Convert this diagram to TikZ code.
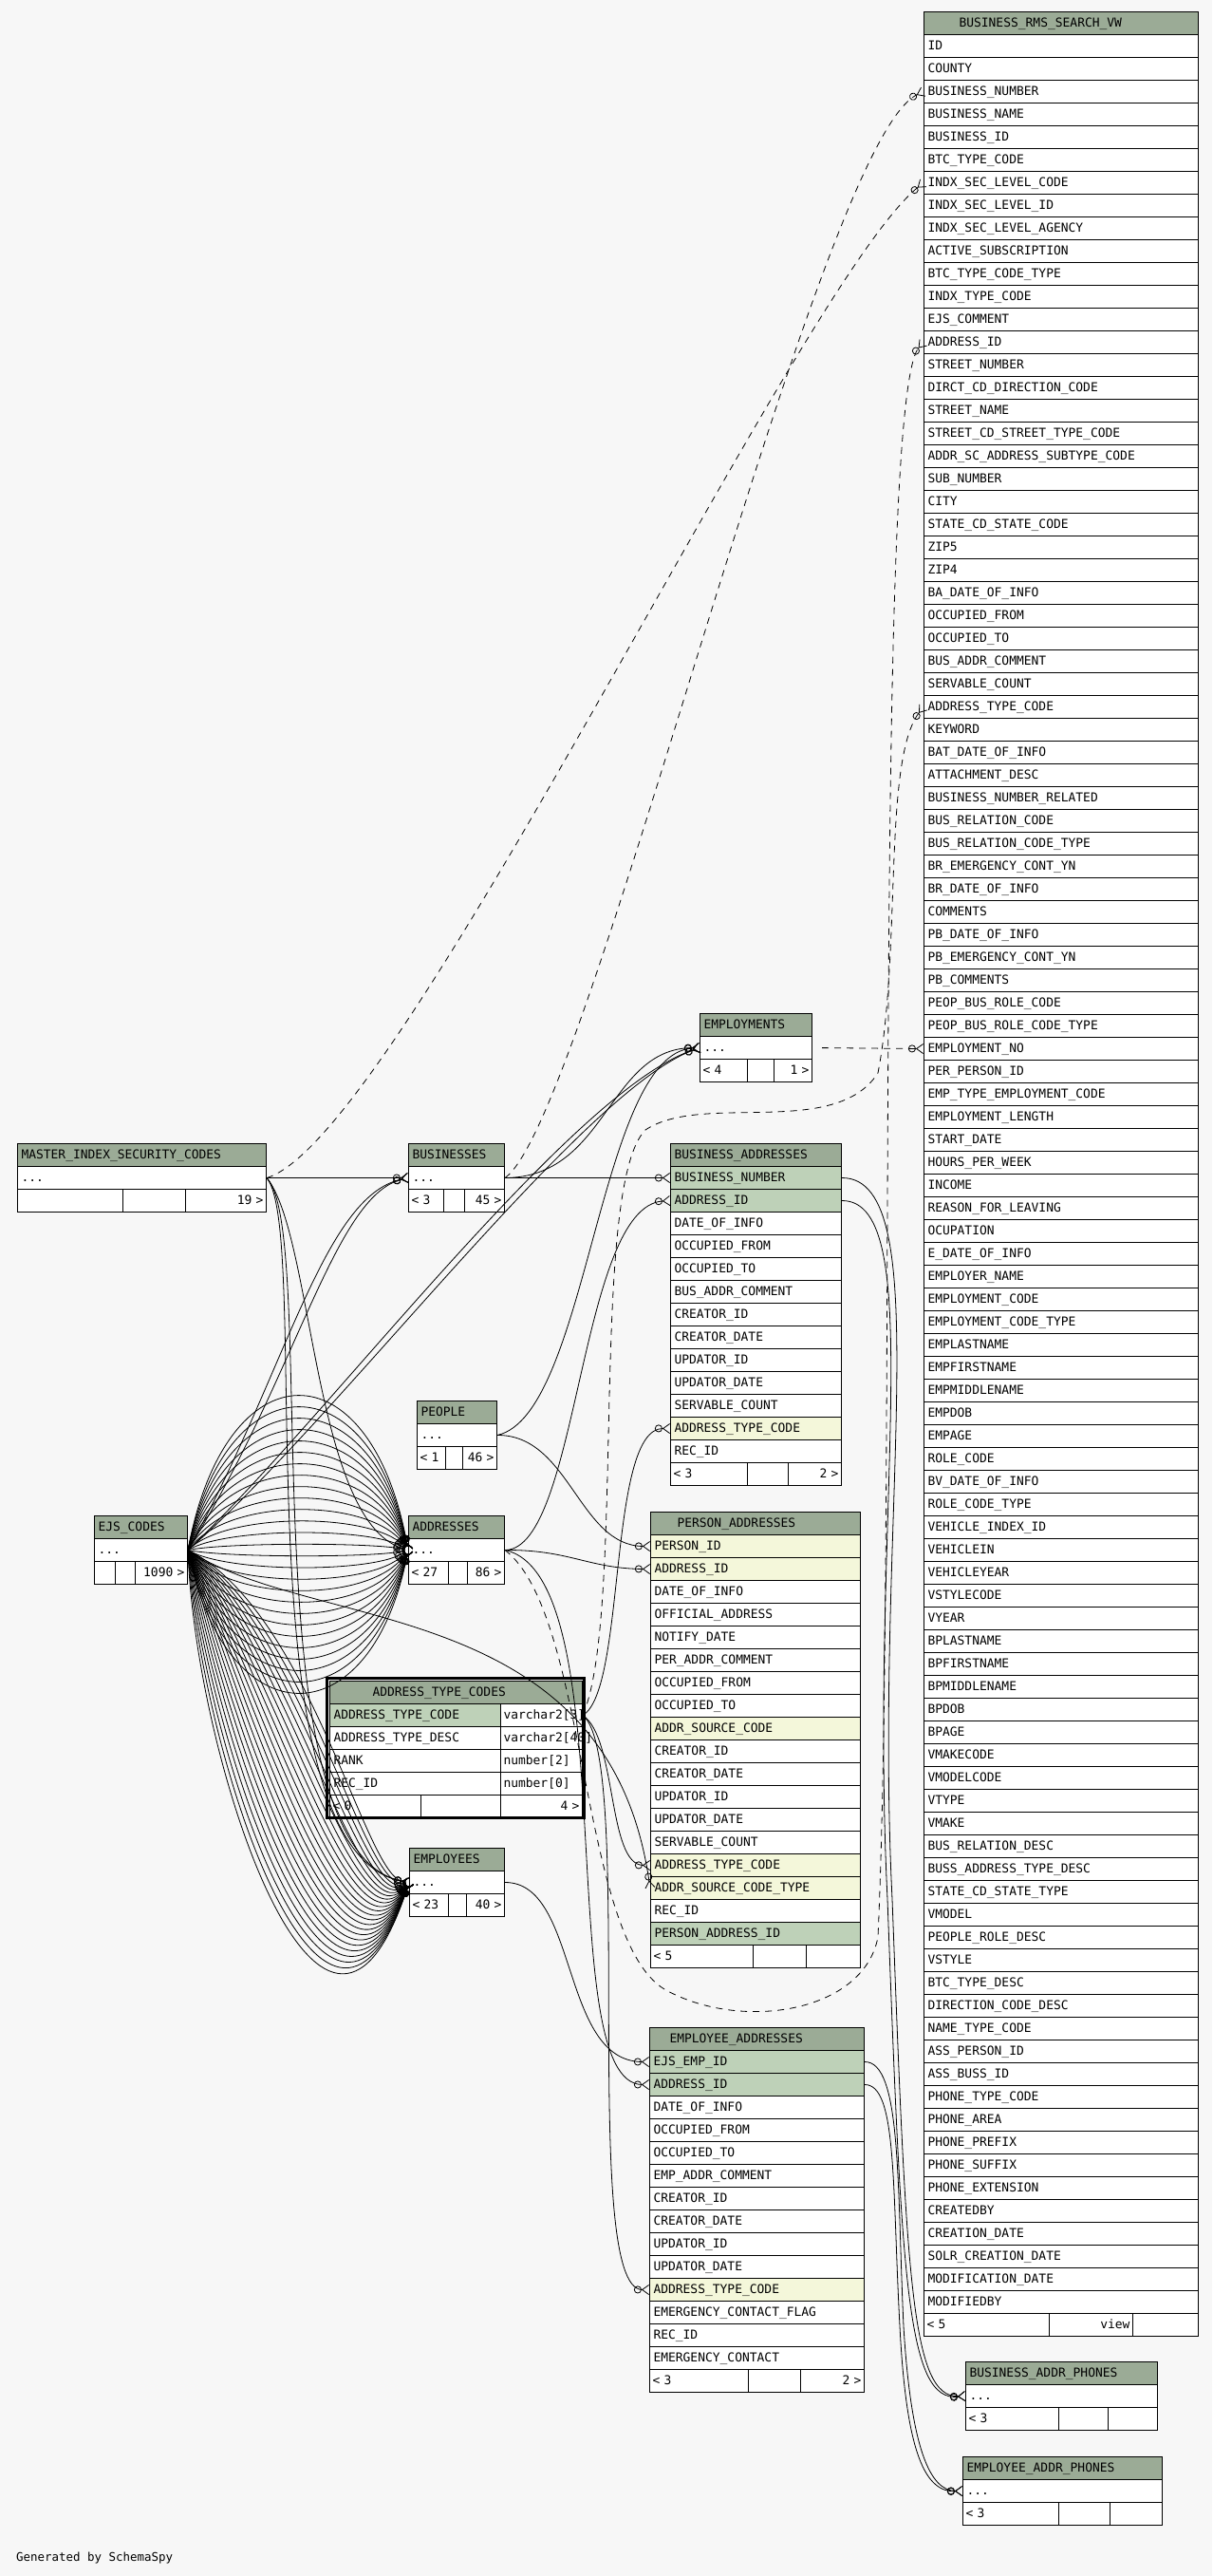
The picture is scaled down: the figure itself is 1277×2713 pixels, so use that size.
\documentclass[tikz,border=0pt]{standalone}
\usepackage{fontspec}
\newfontfamily\dbfont{DejaVu Sans Mono}
\usetikzlibrary{arrows.meta}
\definecolor{bgc}{HTML}{F7F7F7}
\definecolor{hdc}{HTML}{9BAB96}
\definecolor{pkc}{HTML}{BED1B8}
\definecolor{fkc}{HTML}{F4F7DA}
\tikzset{
  col/.style={draw, fill=white, anchor=north west, minimum height=24bp, inner xsep=4bp, inner ysep=0pt,
    text width=#1, align=left, text height=9.5bp, text depth=2.5bp, line width=1bp,
    font=\dbfont\fontsize{13}{15}\selectfont},
  hdr/.style={col=#1, fill=hdc},
  foot/.style={col=#1, inner xsep=3bp},
  rel/.style={line width=0.8bp, -{Circle[open,length=8bp,width=8bp]Straight Barb[reversed,length=7bp,width=10bp]}},
  imp/.style={rel, dash pattern=on 7bp off 6bp},
}
\begin{document}
\begin{tikzpicture}[x=1bp,y=-1bp]
\fill[bgc] (0,0) rectangle (1277,2713);
\useasboundingbox (0,0) rectangle (1277,2713);
%		view
\node[hdr=281bp] (vw) at (973,12) {\hspace*{33bp}BUSINESS\_RMS\_SEARCH\_VW};
\foreach \c [count=\i] in {ID, COUNTY, BUSINESS\_NUMBER, BUSINESS\_NAME, BUSINESS\_ID, BTC\_TYPE\_CODE,
  INDX\_SEC\_LEVEL\_CODE, INDX\_SEC\_LEVEL\_ID, INDX\_SEC\_LEVEL\_AGENCY, ACTIVE\_SUBSCRIPTION,
  BTC\_TYPE\_CODE\_TYPE, INDX\_TYPE\_CODE, EJS\_COMMENT, ADDRESS\_ID, STREET\_NUMBER,
  DIRCT\_CD\_DIRECTION\_CODE, STREET\_NAME, STREET\_CD\_STREET\_TYPE\_CODE, ADDR\_SC\_ADDRESS\_SUBTYPE\_CODE,
  SUB\_NUMBER, CITY, STATE\_CD\_STATE\_CODE, ZIP5, ZIP4, BA\_DATE\_OF\_INFO, OCCUPIED\_FROM, OCCUPIED\_TO,
  BUS\_ADDR\_COMMENT, SERVABLE\_COUNT, ADDRESS\_TYPE\_CODE, KEYWORD, BAT\_DATE\_OF\_INFO, ATTACHMENT\_DESC,
  BUSINESS\_NUMBER\_RELATED, BUS\_RELATION\_CODE, BUS\_RELATION\_CODE\_TYPE, BR\_EMERGENCY\_CONT\_YN,
  BR\_DATE\_OF\_INFO, COMMENTS, PB\_DATE\_OF\_INFO, PB\_EMERGENCY\_CONT\_YN, PB\_COMMENTS,
  PEOP\_BUS\_ROLE\_CODE, PEOP\_BUS\_ROLE\_CODE\_TYPE, EMPLOYMENT\_NO, PER\_PERSON\_ID,
  EMP\_TYPE\_EMPLOYMENT\_CODE, EMPLOYMENT\_LENGTH, START\_DATE, HOURS\_PER\_WEEK, INCOME,
  REASON\_FOR\_LEAVING, OCUPATION, E\_DATE\_OF\_INFO, EMPLOYER\_NAME, EMPLOYMENT\_CODE,
  EMPLOYMENT\_CODE\_TYPE, EMPLASTNAME, EMPFIRSTNAME, EMPMIDDLENAME, EMPDOB, EMPAGE, ROLE\_CODE,
  BV\_DATE\_OF\_INFO, ROLE\_CODE\_TYPE, VEHICLE\_INDEX\_ID, VEHICLEIN, VEHICLEYEAR, VSTYLECODE, VYEAR,
  BPLASTNAME, BPFIRSTNAME, BPMIDDLENAME, BPDOB, BPAGE, VMAKECODE, VMODELCODE, VTYPE, VMAKE,
  BUS\_RELATION\_DESC, BUSS\_ADDRESS\_TYPE\_DESC, STATE\_CD\_STATE\_TYPE, VMODEL, PEOPLE\_ROLE\_DESC,
  VSTYLE, BTC\_TYPE\_DESC, DIRECTION\_CODE\_DESC, NAME\_TYPE\_CODE, ASS\_PERSON\_ID, ASS\_BUSS\_ID,
  PHONE\_TYPE\_CODE, PHONE\_AREA, PHONE\_PREFIX, PHONE\_SUFFIX, PHONE\_EXTENSION, CREATEDBY,
  CREATION\_DATE, SOLR\_CREATION\_DATE, MODIFICATION\_DATE, MODIFIEDBY}
  \node[col=281bp] (vw-\i) at (973,{12+24*\i}) {\c};
\node[foot=126bp] (vw-f1) at (973,2436) {< 5};
\node[foot=82bp, align=right] (vw-f2) at (1105,2436) {view};
\node[foot=63bp] (vw-f3) at (1193,2436) {};
%		master index
\node[hdr=254bp] (msc) at (18,1204) {MASTER\_INDEX\_SECURITY\_CODES};
\node[col=254bp] (msc-1) at (18,1228) {...};
\node[foot=105bp] (msc-f1) at (18,1252) {};
\node[foot=60bp] (msc-f2) at (129,1252) {};
\node[foot=79bp, align=right] (msc-f3) at (195,1252) {19 >};
%		businesses
\node[hdr=93bp] (bus) at (430,1204) {BUSINESSES};
\node[col=93bp] (bus-1) at (430,1228) {...};
\node[foot=31bp] (bus-f1) at (430,1252) {< 3};
\node[foot=16bp] (bus-f2) at (467,1252) {};
\node[foot=36bp, align=right] (bus-f3) at (489,1252) {45 >};
%		employments
\node[hdr=110bp] (empl) at (737,1067) {EMPLOYMENTS};
\node[col=110bp] (empl-1) at (737,1091) {...};
\node[foot=44bp] (empl-f1) at (737,1115) {< 4};
\node[foot=22bp] (empl-f2) at (787,1115) {};
\node[foot=34bp, align=right] (empl-f3) at (815,1115) {1 >};
%		business addresses
\node[hdr=172bp] (ba) at (706,1204) {BUSINESS\_ADDRESSES};
\foreach \c/\f [count=\i] in {BUSINESS\_NUMBER/pkc, ADDRESS\_ID/pkc, DATE\_OF\_INFO/white, OCCUPIED\_FROM/white,
  OCCUPIED\_TO/white, BUS\_ADDR\_COMMENT/white, CREATOR\_ID/white, CREATOR\_DATE/white, UPDATOR\_ID/white,
  UPDATOR\_DATE/white, SERVABLE\_COUNT/white, ADDRESS\_TYPE\_CODE/fkc, REC\_ID/white}
  \node[col=172bp, fill=\f] (ba-\i) at (706,{1204+24*\i}) {\c};
\node[foot=75bp] (ba-f1) at (706,1540) {< 3};
\node[foot=37bp] (ba-f2) at (787,1540) {};
\node[foot=50bp, align=right] (ba-f3) at (830,1540) {2 >};
%		people
\node[hdr=76bp] (ppl) at (439,1475) {PEOPLE};
\node[col=76bp] (ppl-1) at (439,1499) {...};
\node[foot=24bp] (ppl-f1) at (439,1523) {< 1};
\node[foot=12bp] (ppl-f2) at (469,1523) {};
\node[foot=30bp, align=right] (ppl-f3) at (487,1523) {46 >};
%		ejs codes
\node[hdr=90bp] (ejs) at (99,1596) {EJS\_CODES};
\node[col=90bp] (ejs-1) at (99,1620) {...};
\node[foot=16bp] (ejs-f1) at (99,1644) {};
\node[foot=15bp] (ejs-f2) at (121,1644) {};
\node[foot=49bp, align=right] (ejs-f3) at (142,1644) {1090 >};
%		addresses
\node[hdr=93bp] (adr) at (430,1596) {ADDRESSES};
\node[col=93bp] (adr-1) at (430,1620) {...};
\node[foot=36bp] (adr-f1) at (430,1644) {< 27};
\node[foot=14bp] (adr-f2) at (472,1644) {};
\node[foot=33bp, align=right] (adr-f3) at (492,1644) {86 >};
%		person addresses
\node[hdr=213bp] (pa) at (685,1592) {\hspace*{24bp}PERSON\_ADDRESSES};
\foreach \c/\f [count=\i] in {PERSON\_ID/fkc, ADDRESS\_ID/fkc, DATE\_OF\_INFO/white, OFFICIAL\_ADDRESS/white,
  NOTIFY\_DATE/white, PER\_ADDR\_COMMENT/white, OCCUPIED\_FROM/white, OCCUPIED\_TO/white, ADDR\_SOURCE\_CODE/fkc,
  CREATOR\_ID/white, CREATOR\_DATE/white, UPDATOR\_ID/white, UPDATOR\_DATE/white, SERVABLE\_COUNT/white,
  ADDRESS\_TYPE\_CODE/fkc, ADDR\_SOURCE\_CODE\_TYPE/fkc, REC\_ID/white, PERSON\_ADDRESS\_ID/pkc}
  \node[col=213bp, fill=\f] (pa-\i) at (685,{1592+24*\i}) {\c};
\node[foot=102bp] (pa-f1) at (685,2048) {< 5};
\node[foot=50bp] (pa-f2) at (793,2048) {};
\node[foot=51bp] (pa-f3) at (849,2048) {};
%		employees
\node[hdr=92bp] (emps) at (431,1946) {EMPLOYEES};
\node[col=92bp] (emps-1) at (431,1970) {...};
\node[foot=35bp] (emps-f1) at (431,1994) {< 23};
\node[foot=13bp] (emps-f2) at (472,1994) {};
\node[foot=34bp, align=right] (emps-f3) at (491,1994) {40 >};
%		address type codes
\node[hdr=258bp] (atc) at (347,1770) {\hspace*{41bp}ADDRESS\_TYPE\_CODES};
\foreach \c/\t/\f [count=\i] in {ADDRESS\_TYPE\_CODE/varchar2[3]/pkc, ADDRESS\_TYPE\_DESC/varchar2[40]/white,
  RANK/number[2]/white, REC\_ID/number[0]/white}{
  \node[col=172bp, fill=\f] (atc-\i) at (347,{1770+24*\i}) {\c};
  \node[foot=80bp] (atct-\i) at (527,{1770+24*\i}) {\t};
}
\node[foot=90bp] (atc-f1) at (347,1890) {< 0};
\node[foot=78bp] (atc-f2) at (443,1890) {};
\node[foot=80bp, align=right] (atc-f3) at (527,1890) {4 >};
\draw[line width=3bp] (344.5,1767.5) rectangle (615.5,1914.5);
%		employee addresses
\node[hdr=218bp] (ea) at (684,2135) {\hspace*{17bp}EMPLOYEE\_ADDRESSES};
\foreach \c/\f [count=\i] in {EJS\_EMP\_ID/pkc, ADDRESS\_ID/pkc, DATE\_OF\_INFO/white, OCCUPIED\_FROM/white,
  OCCUPIED\_TO/white, EMP\_ADDR\_COMMENT/white, CREATOR\_ID/white, CREATOR\_DATE/white, UPDATOR\_ID/white,
  UPDATOR\_DATE/white, ADDRESS\_TYPE\_CODE/fkc, EMERGENCY\_CONTACT\_FLAG/white, REC\_ID/white,
  EMERGENCY\_CONTACT/white}
  \node[col=218bp, fill=\f] (ea-\i) at (684,{2135+24*\i}) {\c};
\node[foot=98bp] (ea-f1) at (684,2495) {< 3};
\node[foot=49bp] (ea-f2) at (788,2495) {};
\node[foot=61bp, align=right] (ea-f3) at (843,2495) {2 >};
%		phones
\node[hdr=194bp] (bap) at (1017,2487) {BUSINESS\_ADDR\_PHONES};
\node[col=194bp] (bap-1) at (1017,2511) {...};
\node[foot=92bp] (bap-f1) at (1017,2535) {< 3};
\node[foot=46bp] (bap-f2) at (1115,2535) {};
\node[foot=46bp] (bap-f3) at (1167,2535) {};
\node[hdr=202bp] (eap) at (1014,2587) {EMPLOYEE\_ADDR\_PHONES};
\node[col=202bp] (eap-1) at (1014,2611) {...};
\node[foot=95bp] (eap-f1) at (1014,2635) {< 3};
\node[foot=48bp] (eap-f2) at (1115,2635) {};
\node[foot=49bp] (eap-f3) at (1169,2635) {};
\node[anchor=west, inner sep=0pt, font=\dbfont\fontsize{12.5}{14}\selectfont] (gen) at (17,2694) {Generated by SchemaSpy};
%		fans
\foreach \k in {-200,-184,...,216}
  \draw[rel] (ejs-1.east) .. controls ([shift={(40,-\k)}]ejs-1.east) and ([shift={(-40,-\k)}]adr-1.west) .. (adr-1.west);
\foreach \s in {0,...,22}
  \draw[rel] (ejs-1.east) .. controls ({205+5.5*\s},{1850-7*\s}) and ({340+2*\s},{2260-13*\s}) .. (emps-1.west);
\foreach \d in {0,12}{
  \draw[rel] (ejs-1.east) .. controls ({300+\d},1450) and ({340+\d},1260) .. (bus-1.west);
  \draw[rel] (ejs-1.east) .. controls ({340+\d},1500) and ({600+\d},1150) .. (empl-1.west);
}
\foreach \d in {0,8}
  \draw[rel] (msc-1.east) .. controls ({330+\d},1300) and ({250+\d},1950) .. (emps-1.west);
\draw[rel] (msc-1.east) .. controls (330,1300) and (330,1600) .. (adr-1.west);
\draw[rel] (ejs-1.east) .. controls (330,1720) and (640,1680) .. (pa-16.west);
%		links
\draw[rel] (msc-1.east) -- (bus-1.west);
\draw[rel] (bus-1.east) -- (ba-1.west);
\draw[rel] (bus-1.east) .. controls (640,1240) and (640,1104) .. (empl-1.west);
\draw[rel] (ppl-1.east) .. controls (620,1490) and (630,1110) .. (empl-1.west);
\draw[rel] (ppl-1.east) .. controls (600,1511) and (610,1628) .. (pa-1.west);
\draw[rel] (adr-1.east) .. controls (610,1632) and (610,1270) .. (ba-2.west);
\draw[rel] (adr-1.east) .. controls (600,1632) and (620,1652) .. (pa-2.west);
\draw[rel] (adr-1.east) .. controls (660,1660) and (580,2195) .. (ea-2.west);
\draw[rel] (emps-1.east) .. controls (610,1982) and (590,2171) .. (ea-1.west);
\draw[rel] (atct-1.east) .. controls (660,1780) and (640,1504) .. (ba-12.west);
\draw[rel] (atct-1.east) .. controls (650,1830) and (640,1964) .. (pa-15.west);
\draw[rel] (atct-1.east) .. controls (670,1850) and (610,2411) .. (ea-11.west);
\draw[rel] (ba-1.east) .. controls (990,1240) and (920,1600) .. (940,2000) .. controls (955,2400) and (960,2525) .. (bap-1.west);
\draw[rel] (ba-2.east) .. controls (980,1264) and (915,1600) .. (935,2000) .. controls (950,2400) and (955,2530) .. (bap-1.west);
\draw[rel] (ea-1.east) .. controls (950,2171) and (945,2300) .. (952,2450) .. controls (960,2580) and (980,2623) .. (eap-1.west);
\draw[rel] (ea-2.east) .. controls (945,2195) and (940,2300) .. (948,2450) .. controls (955,2585) and (975,2625) .. (eap-1.west);
%		implied
\draw[imp] (msc-1.east) .. controls (420,1200) and (840,300) .. (vw-7.west);
\draw[imp] (bus-1.east) .. controls (620,1180) and (860,150) .. (vw-3.west);
\draw[imp, shorten <=10bp] (empl-1.east) -- (vw-45.west);
\draw[imp] (adr-1.east) .. controls (620,1700) and (610,2040) .. (700,2095) .. controls (780,2140) and (910,2120) .. (925,2040) .. controls (945,1600) and (920,420) .. (vw-14.west);
\draw[imp] (atct-1.east) .. controls (660,1700) and (620,1250) .. (680,1190) .. controls (740,1150) and (880,1200) .. (925,1130) .. controls (950,1000) and (930,800) .. (vw-30.west);
\end{tikzpicture}
\end{document}
